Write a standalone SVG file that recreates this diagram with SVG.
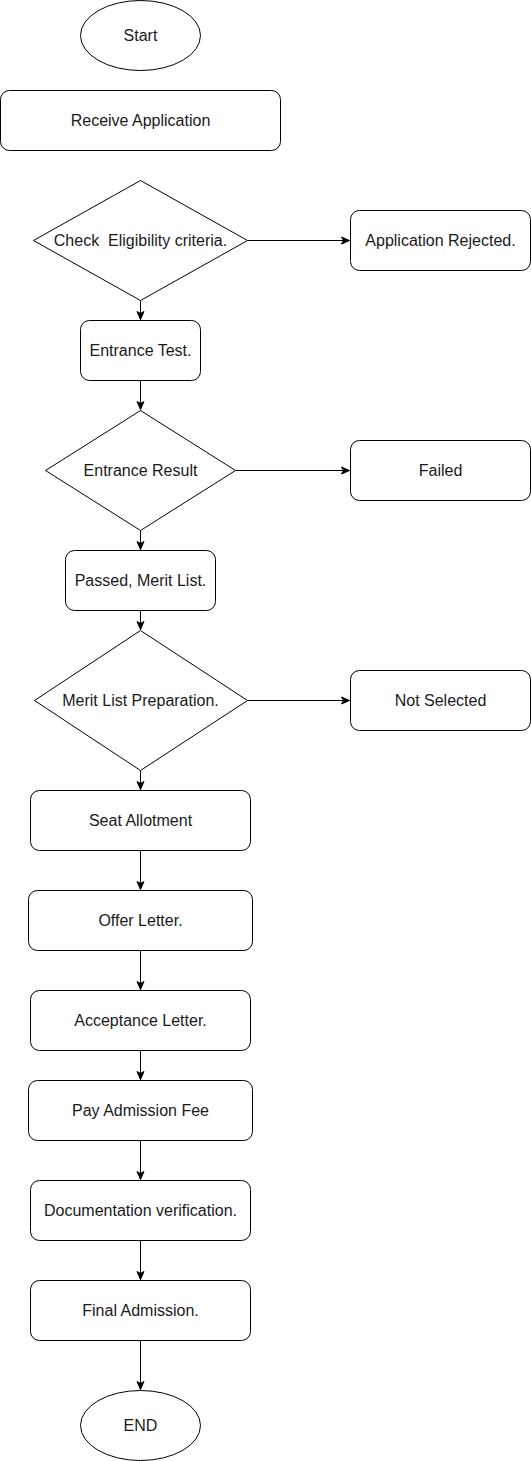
<svg xmlns="http://www.w3.org/2000/svg" width="531" height="1461" viewBox="0 0 531 1461">
<style>
.s{fill:#fff;stroke:#000;stroke-width:1}
.t{font-family:"Liberation Sans",Arial,Helvetica,sans-serif;font-size:16px;fill:#1a1a1a;text-anchor:middle;dominant-baseline:central}
.c{fill:none;stroke:#000;stroke-width:1}
</style>
<defs>
<marker id="a" markerUnits="userSpaceOnUse" markerWidth="10" markerHeight="10" viewBox="0 0 10 10" refX="9" refY="5" orient="auto">
<path d="M1,1.5 L9,5 L1,8.5 L3,5 Z" fill="#000" stroke="#000" stroke-width="1"/>
</marker>
</defs>
<rect width="531" height="1461" fill="#fff"/>
<g id="connectors">
<path class="c" d="M140.5,300.5 V319.5" marker-end="url(#a)"/>
<path class="c" d="M247.5,240.5 H349.5" marker-end="url(#a)"/>
<path class="c" d="M140.5,380.5 V409.5" marker-end="url(#a)"/>
<path class="c" d="M235.5,470.5 H349.5" marker-end="url(#a)"/>
<path class="c" d="M140.5,530.5 V549.5" marker-end="url(#a)"/>
<path class="c" d="M140.5,610.5 V629.5" marker-end="url(#a)"/>
<path class="c" d="M247.5,700.5 H349.5" marker-end="url(#a)"/>
<path class="c" d="M140.5,770.5 V789.5" marker-end="url(#a)"/>
<path class="c" d="M140.5,850.5 V889.5" marker-end="url(#a)"/>
<path class="c" d="M140.5,950.5 V989.5" marker-end="url(#a)"/>
<path class="c" d="M140.5,1050.5 V1079.5" marker-end="url(#a)"/>
<path class="c" d="M140.5,1140.5 V1179.5" marker-end="url(#a)"/>
<path class="c" d="M140.5,1240.5 V1279.5" marker-end="url(#a)"/>
<path class="c" d="M140.5,1340.5 V1389.5" marker-end="url(#a)"/>
</g>
<g id="start"><ellipse class="s" cx="140.5" cy="35.5" rx="60" ry="35"/><text class="t" x="140.5" y="35.5">Start</text></g>
<g id="receive"><rect class="s" x="0.5" y="90.5" width="280" height="60" rx="9"/><text class="t" x="140.5" y="120.5">Receive Application</text></g>
<g id="eligibility"><polygon class="s" points="140.5,180.5 247.5,240.5 140.5,300.5 33.5,240.5"/><text class="t" x="140.5" y="240.5" xml:space="preserve">Check  Eligibility criteria.</text></g>
<g id="rejected"><rect class="s" x="350.5" y="210.5" width="180" height="60" rx="9"/><text class="t" x="440.5" y="240.5">Application Rejected.</text></g>
<g id="entrance-test"><rect class="s" x="80.5" y="320.5" width="120" height="60" rx="9"/><text class="t" x="140.5" y="350.5">Entrance Test.</text></g>
<g id="entrance-result"><polygon class="s" points="140.5,410.5 235.5,470.5 140.5,530.5 45.5,470.5"/><text class="t" x="140.5" y="470.5">Entrance Result</text></g>
<g id="failed"><rect class="s" x="350.5" y="440.5" width="180" height="60" rx="9"/><text class="t" x="440.5" y="470.5">Failed</text></g>
<g id="passed"><rect class="s" x="65.5" y="550.5" width="150" height="60" rx="9"/><text class="t" x="140.5" y="580.5">Passed, Merit List.</text></g>
<g id="merit"><polygon class="s" points="140.5,630.5 247.5,700.5 140.5,770.5 34.5,700.5"/><text class="t" x="140.5" y="700.5">Merit List Preparation.</text></g>
<g id="not-selected"><rect class="s" x="350.5" y="670.5" width="180" height="60" rx="9"/><text class="t" x="440.5" y="700.5">Not Selected</text></g>
<g id="seat"><rect class="s" x="30.5" y="790.5" width="220" height="60" rx="9"/><text class="t" x="140.5" y="820.5">Seat Allotment</text></g>
<g id="offer"><rect class="s" x="28.5" y="890.5" width="224" height="60" rx="9"/><text class="t" x="140.5" y="920.5">Offer Letter.</text></g>
<g id="acceptance"><rect class="s" x="30.5" y="990.5" width="220" height="60" rx="9"/><text class="t" x="140.5" y="1020.5">Acceptance Letter.</text></g>
<g id="pay"><rect class="s" x="28.5" y="1080.5" width="224" height="60" rx="9"/><text class="t" x="140.5" y="1110.5">Pay Admission Fee</text></g>
<g id="documentation"><rect class="s" x="30.5" y="1180.5" width="220" height="60" rx="9"/><text class="t" x="140.5" y="1210.5">Documentation verification.</text></g>
<g id="final"><rect class="s" x="30.5" y="1280.5" width="220" height="60" rx="9"/><text class="t" x="140.5" y="1310.5">Final Admission.</text></g>
<g id="end"><ellipse class="s" cx="140.5" cy="1425.5" rx="60" ry="35"/><text class="t" x="140.5" y="1425.5">END</text></g>
</svg>
